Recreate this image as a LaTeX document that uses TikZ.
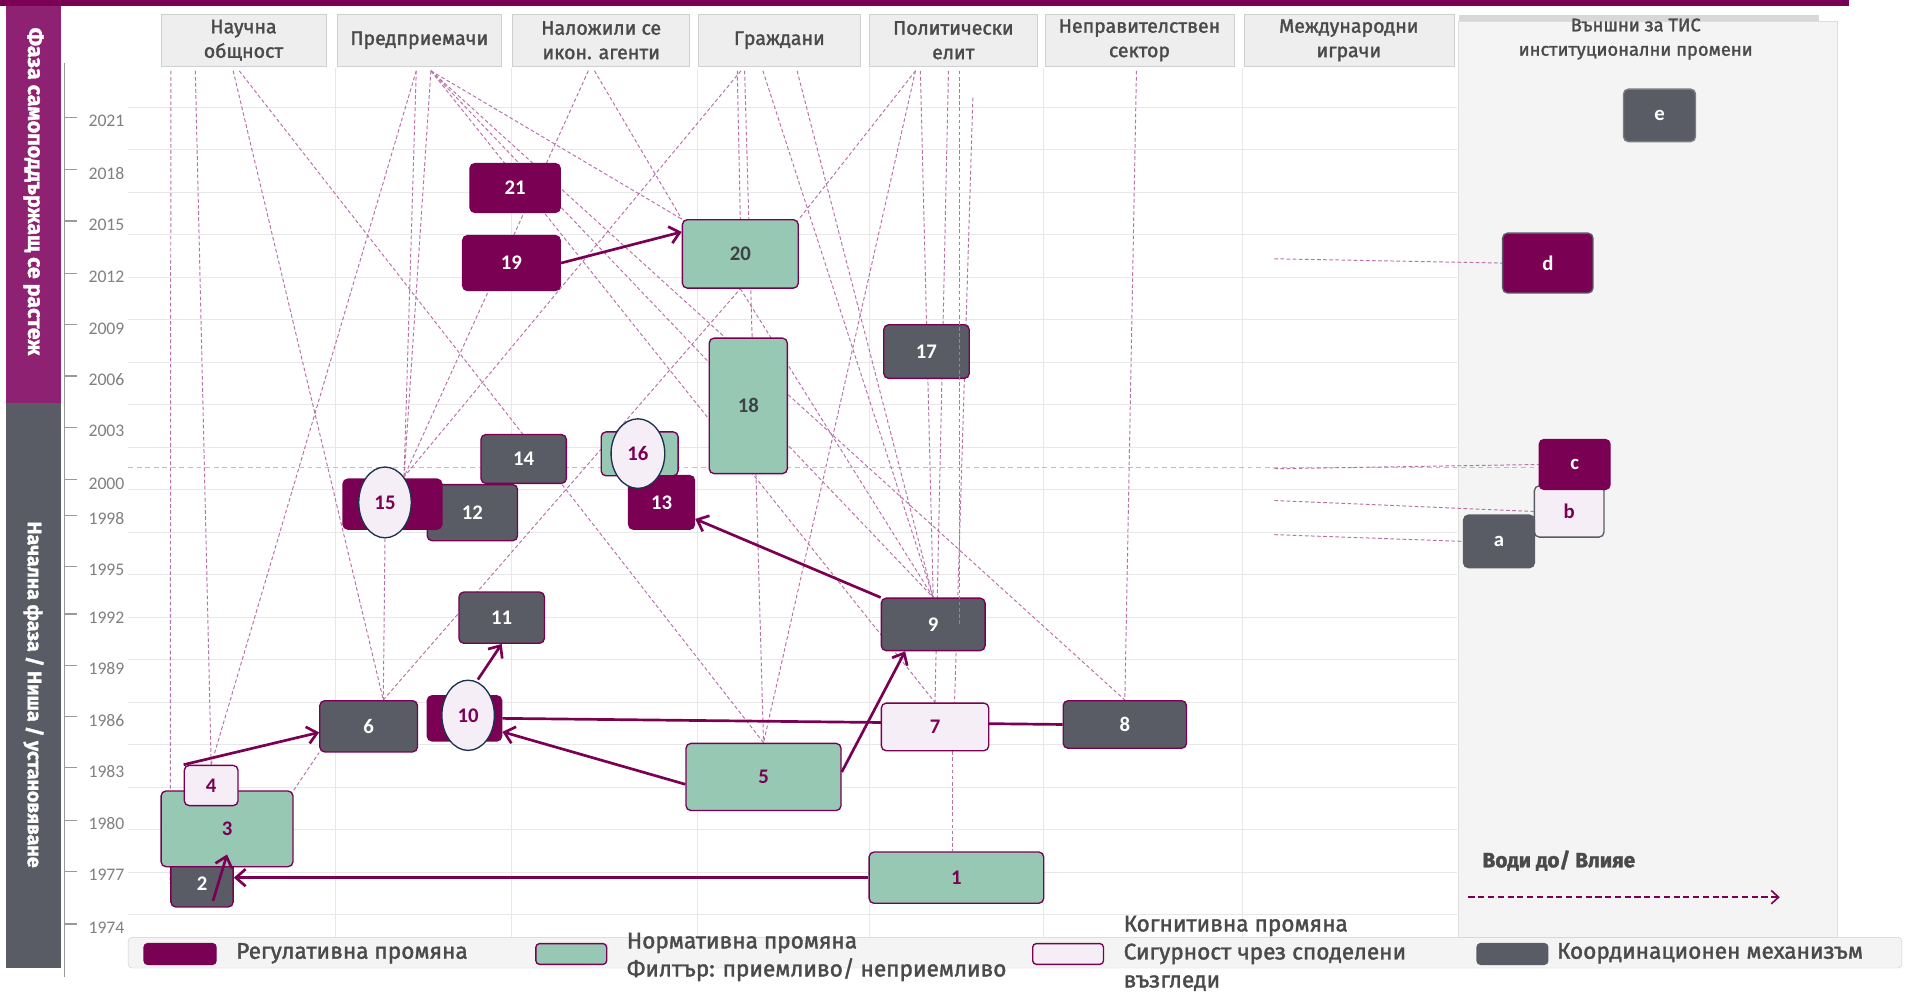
\documentclass[tikz,border=0pt]{standalone}
\usepackage{fontspec}
\setmainfont{Carlito}
\newfontfamily\kopffont{Fira Sans}[FakeBold=1.6]
\usetikzlibrary{arrows.meta, shapes.geometric}
\definecolor{lila}{HTML}{7A0054}
\definecolor{lilahell}{HTML}{8E2171}
\definecolor{mint}{HTML}{96C8B4}
\definecolor{rosa}{HTML}{F6EEF6}
\definecolor{schiefer}{HTML}{595C64}
\definecolor{marine}{HTML}{1E3250}
\definecolor{spurrot}{HTML}{B872A8}
\definecolor{kopfgrau}{HTML}{EEEEEE}
\definecolor{rahmen}{HTML}{CFCFCF}
\definecolor{netz}{HTML}{E8E8E8}
\definecolor{tafel}{HTML}{F4F4F4}
\definecolor{schrift}{HTML}{4A4A4A}
\pgfdeclarelayer{grund}
\pgfdeclarelayer{linien}
\pgfsetlayers{grund,linien,main}

\begin{document}
\begin{tikzpicture}[x=1pt, y=-1pt,
    feld/.style={rounded corners=4pt, draw=lila, line width=1.1pt, inner sep=0pt,
      font=\bfseries\fontsize{17}{17}\selectfont},
    gross/.style 2 args={minimum width=#1pt, minimum height=#2pt},
    reg/.style={feld, fill=lila, text=white},
    norm/.style={feld, fill=mint, text=lila},
    kog/.style={feld, fill=rosa, text=lila},
    koord/.style={feld, fill=schiefer, text=white},
    kreis/.style={ellipse, draw=marine, line width=1.1pt, fill=rosa, text=lila,
      inner sep=0pt, font=\bfseries\fontsize{17}{17}\selectfont},
    kopf/.style={draw=rahmen, fill=kopfgrau, minimum height=42pt, inner sep=0pt,
      align=center, text=schrift, font=\kopffont\fontsize{16}{20}\selectfont},
    spur/.style={spurrot, line width=0.8pt, dash pattern=on 3pt off 2pt},
    pfeil/.style={-{Straight Barb[length=8pt, width=14pt]}, lila, line width=2.2pt},
    leg/.style={anchor=west, text=schrift, font=\kopffont\fontsize{18.5}{23}\selectfont}]
  \useasboundingbox (0,0) rectangle (1568,817);

  \begin{pgfonlayer}{grund}
    \fill[lila] (0,0) rectangle (1515,5);
    \fill[lilahell] (5,5) rectangle (50,330);
    \fill[schiefer] (5,330) rectangle (50,793);
    \node[rotate=-90, text=white, font=\kopffont\bfseries\fontsize{17.5}{17.5}\selectfont]
      (phase2) at (27.5,157) {Фаза самоподдържащ се растеж};
    \node[rotate=-90, text=white, font=\kopffont\bfseries\fontsize{16}{16}\selectfont]
      (phase1) at (27.5,569) {Начална фаза / Ниша / установяване};
    \filldraw[fill=tafel, draw=rahmen!70] (1195,17) rectangle (1505,768);
    \foreach \gx in {275,419,571,712,855,1018}
      \draw[netz, line width=0.8pt] (\gx,56) -- (\gx,768);
    \foreach \k in {0,...,19}
      \draw[netz, line width=0.8pt] (105,{88+34.8*\k}) -- (1194,{88+34.8*\k});
    \node[kopf, minimum width=135pt] (h1) at (199.5,33) {Научна\\общност};
    \node[kopf, minimum width=135pt] (h2) at (343.5,33) {Предприемачи};
    \node[kopf, minimum width=145pt] (h3) at (492.5,33) {Наложили се\\икон. агенти};
    \node[kopf, minimum width=133pt] (h4) at (638.5,33) {Граждани};
    \node[kopf, minimum width=138pt] (h5) at (781,33) {Политически\\елит};
    \node[kopf, minimum width=155pt] (h6) at (933.5,33) {Неправителствен\\сектор};
    \node[kopf, minimum width=172pt] (h7) at (1105,33) {Международни\\играчи};
    \fill[rahmen!80] (1195,12) rectangle (1490,17);
    \node[align=center, text=schrift, font=\kopffont\fontsize{15}{20}\selectfont]
      (h8) at (1340,32) {Външни за ТИС\\институционални промени};
    % Zeitachse
    \draw[gray!80, line width=1.2pt] (53,52) -- (53,800);
    \foreach \jahr/\yy in {2021/99, 2018/142, 2015/184, 2012/227, 2009/269, 2006/311,
        2003/353, 2000/396, 1998/425, 1995/467, 1992/506, 1989/548, 1986/590,
        1983/632, 1980/675, 1977/717, 1974/760} {
      \draw[gray!80, line width=1pt] (53,{\yy-3}) -- (63,{\yy-3});
      \node[anchor=west, text=gray, font=\fontsize{14.5}{14.5}\selectfont] at (69,\yy) {\jahr};
    }
    \draw[gray!50, line width=0.8pt, dash pattern=on 4pt off 3pt] (105,383) -- (1258,383);
    \filldraw[fill=tafel, draw=rahmen, rounded corners=3pt] (105,768) rectangle (1558,793);
  \end{pgfonlayer}

  \coordinate (wa1) at (140,58);
  \coordinate (wa2) at (160,58);
  \coordinate (wa3) at (191,58);
  \coordinate (wa4) at (196,58);
  \coordinate (wb1) at (341,58);
  \coordinate (wb2) at (353,58);
  \coordinate (wc1) at (482,58);
  \coordinate (wc2) at (487,58);
  \coordinate (wd1) at (604,58);
  \coordinate (wd2) at (607,58);
  \coordinate (wd3) at (610,58);
  \coordinate (wd4) at (625,58);
  \coordinate (wd5) at (653,58);
  \coordinate (we1) at (750,58);
  \coordinate (we2) at (754,58);
  \coordinate (we3) at (777,58);
  \coordinate (we4) at (786,58);
  \coordinate (we5) at (797,80);
  \coordinate (wf1) at (931,58);
  \coordinate (wg1) at (1044,212);
  \coordinate (wg2) at (1044,384);
  \coordinate (wg3) at (1044,410);
  \coordinate (wg4) at (1044,438);

  \node[koord, gross={51}{38}] (n2) at (165.5,724) {2};
  \node[norm, gross={108}{62}] (n3) at (186,679) {3};
  \node[kog, gross={44}{33}] (n4) at (173,643.5) {4};
  \node[norm, gross={143}{42}] (n1) at (783.5,719) {1};
  \node[norm, gross={127}{55}] (n5) at (625.5,636.5) {5};
  \node[koord, gross={80}{42}] (n6) at (302,595) {6};
  \node[koord, gross={101}{39}] (n8) at (921.5,593.5) {8};
  \node[kog, gross={88}{39}] (n7) at (766,595.5) {7};
  \node[koord, gross={85}{43}] (n9) at (764.5,511.5) {9};
  \node[reg, gross={61}{37}] (n10) at (380.5,588.5) {};
  \node[kreis, gross={43}{57.5}] (e10) at (383.5,586) {10};
  \node[koord, gross={70}{42}] (n11) at (411,506) {11};
  \node[koord, gross={74}{46}] (n12) at (387,420) {12};
  \node[reg, gross={81}{41}] (n15) at (321.5,413) {};
  \node[kreis, gross={43}{58}] (e15) at (315.4,411.6) {15};
  \node[koord, gross={70}{40}] (n14) at (429,376) {14};
  \node[reg, gross={54}{44}] (n13) at (542,411.6) {13};
  \node[norm, gross={63}{36}] (n16) at (524,371.8) {};
  \node[kreis, gross={44}{57}] (e16) at (522.6,371.6) {16};
  \node[koord, gross={70}{44}] (n17) at (759,288) {17};
  \node[norm, gross={64}{111}, text=schiefer!70!black] (n18) at (613,332.5) {18};
  \node[norm, gross={95}{56}, text=schiefer!70!black] (n20) at (606.5,208) {20};
  \node[reg, gross={80}{45}] (n19) at (419,215.5) {19};
  \node[reg, gross={74}{40}] (n21) at (422,154) {21};
  \node[kog, gross={57}{42}, draw=schiefer] (nb) at (1285.5,419) {b};
  \node[koord, gross={58}{43}, draw=schiefer] (na) at (1228,443.5) {a};
  \node[reg, gross={58}{41}] (nc) at (1290,380.5) {c};
  \node[reg, gross={74}{49}, draw=schiefer] (nd) at (1268,215.5) {d};
  \node[koord, gross={59}{43}, draw=schiefer!80] (ne) at (1359.5,94.5) {e};

  \begin{pgfonlayer}{linien}
    \draw[spur] (wa1) -- (n2.west);
    \draw[spur] (wa2) -- (n4.north);
    \draw[spur] (wa3) -- ([xshift=12pt]n6.north);
    \draw[spur] (wa4) -- (n5.north);
    \draw[spur] (wb1) -- (n4.north);
    \draw[spur] (wb1) -- (e15.north east);
    \draw[spur] (wb2) -- (e15.north east);
    \draw[spur] (wb2) -- (n20.north west);
    \draw[spur] (wb2) -- (n8.north);
    \draw[spur] (wb2) -- (n9.north);
    \draw[spur] (wb2) -- (n7.north);
    \draw[spur] (wc1) -- (e15.north east);
    \draw[spur] (wc2) -- (n20.north west);
    \draw[spur] (wd1) -- (n20.north);
    \draw[spur] (wd2) -- (e15.north east);
    \draw[spur] (wd3) -- (n5.north);
    \draw[spur] (wd4) -- (n9.north);
    \draw[spur] (wd5) -- (n9.north);
    \draw[spur] (we1) -- (n5.north);
    \draw[spur] (we1) -- (n20.north east);
    \draw[spur] (we2) -- (n9.north);
    \draw[spur] (we3) -- (n7.north);
    \draw[spur] (we5) -- ([xshift=16pt]n7.north);
    \draw[spur] (wf1) -- (n8.north);
    \draw[spur] (e15.south) -- ([xshift=12pt]n6.north);
    \draw[spur] (n3.north east) -- (n6.south west);
    \draw[spur] ([xshift=12pt]n6.north) -- (n20.south);
    \draw[spur] (n20.south) -- (n9.north);
    \draw[spur] ([xshift=14pt]n7.south) -- ([xshift=14pt]n7.south |- n1.north);
    \draw[spur] (wg1) -- (nd.west);
    \draw[spur] (wg2) -- (nc.west);
    \draw[spur] (wg3) -- (nb.west);
    \draw[spur] (wg4) -- (na.west);
    \draw[lila, line width=2.2pt] (n8.west) -- (n10.east);
  \end{pgfonlayer}
  \draw[spur] (we4) -- (we4 |- n9.center);

  \draw[pfeil] (n1.west) -- (n1.west -| n2.east);
  \draw[pfeil] ([xshift=9pt, yshift=-14pt]n2.center) -- ([yshift=-21pt]n3.center);
  \draw[pfeil] (n4.north west) -- ([yshift=-5pt]n6.west);
  \draw[pfeil] ([yshift=-6pt]n5.west) -- ([yshift=-11pt]n10.east);
  \draw[pfeil] ([yshift=4pt]n5.east) -- ([xshift=-23pt]n9.south);
  \draw[pfeil] (n9.north west) -- ([yshift=9pt]n13.south east);
  \draw[pfeil] ([xshift=8pt]e10.north) -- (n11.south);
  \draw[pfeil] (n19.east) -- ([yshift=18pt]n20.west);

  \node[leg, font=\kopffont\bfseries\fontsize{17}{17}\selectfont] (wirkt) at (1211,705) {Води до/ Влияе};
  \coordinate (wstart) at (1203,735);
  \coordinate (wziel) at (1458,735);
  \draw[-{Straight Barb[length=6pt, width=11pt]}, lila, line width=1.3pt,
    dash pattern=on 5pt off 3pt] (wstart) -- (wziel);

  \node[reg, gross={59}{17}, rounded corners=3pt] (lg1) at (147.5,781.5) {};
  \node[leg] (lt1) at (190,781) {Регулативна промяна};
  \node[norm, gross={58}{17}, rounded corners=3pt] (lg2) at (468,781.5) {};
  \node[leg, align=left] (lt2) at (510,784) {Нормативна промяна\\Филтър: приемливо/ неприемливо};
  \node[kog, gross={58}{17}, rounded corners=3pt] (lg3) at (875,781.5) {};
  \node[leg, align=left] (lt3) at (917,781) {Когнитивна промяна\\Сигурност чрез споделени\\възгледи};
  \node[koord, gross={58}{17}, rounded corners=3pt, draw=schiefer] (lg4) at (1239,781.5) {};
  \node[leg] (lt4) at (1272,781) {Координационен механизъм};
\end{tikzpicture}
\end{document}
